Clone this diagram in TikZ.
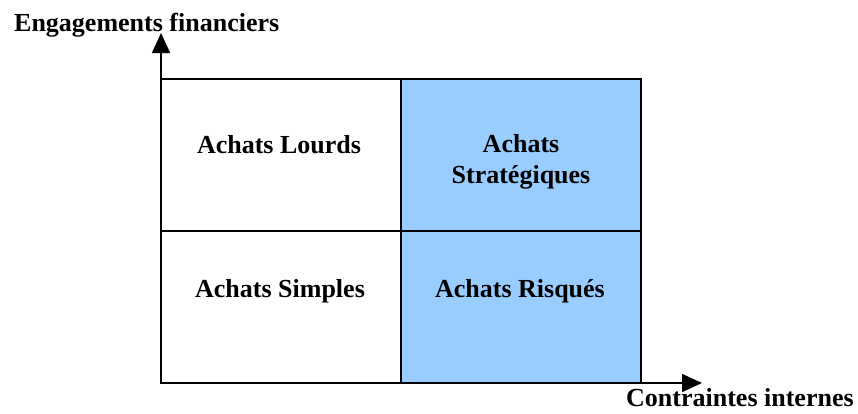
\documentclass[tikz,border=0pt]{standalone}
\usepackage{fontspec}
\setmainfont{Liberation Serif}
\usetikzlibrary{arrows.meta}
\definecolor{cellblue}{HTML}{99CCFF}
\begin{document}
\begin{tikzpicture}[x=1pt,y=-1pt,
  cell/.style={draw=black,line width=1.6pt,minimum width=240pt,minimum height=152pt,inner sep=0pt,outer sep=0pt},
  celltext/.style={font=\fontsize{26}{31}\selectfont\bfseries,align=center,inner sep=0pt,anchor=base},
  axislabel/.style={font=\fontsize{26}{31}\selectfont\bfseries,inner sep=0pt,anchor=base west},
  axis/.style={line width=1.6pt,-{Triangle[length=20pt,width=18pt]}}]
\useasboundingbox (0,0) rectangle (858,413);
% quadrant cells
\node[cell,fill=white]     (lourds) at (281,155) {};
\node[cell,fill=cellblue]  (strat)  at (521,155) {};
\node[cell,fill=white]     (simples) at (281,307) {};
\node[cell,fill=cellblue]  (risques) at (521,307) {};
% axes
\coordinate (origin) at (161,383);
\coordinate (ytip) at (161,33);
\coordinate (xtip) at (702,383);
\draw[axis] (origin) -- (ytip);
\draw[axis] (origin) -- (xtip);
% cell texts (base anchor sits on the last line)
\node[celltext] (tl) at (279,153) {Achats Lourds};
\node[celltext] (tr) at (521,183) {Achats\\Stratégiques};
\node[celltext] (bl) at (280,297) {Achats Simples};
\node[celltext] (br) at (520,297) {Achats Risqués};
% axis labels
\node[axislabel] (ylab) at (14,31) {Engagements financiers};
\node[axislabel] (xlab) at (626,406) {Contraintes internes};
\end{tikzpicture}
\end{document}
